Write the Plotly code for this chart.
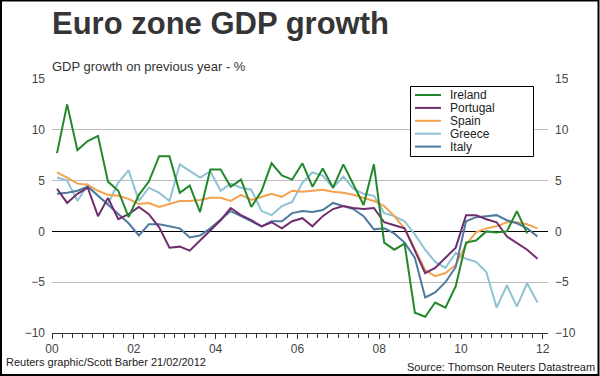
import plotly.graph_objects as go

# ---- data (year-on-year GDP growth, %, quarterly 2000Q1..2011Q4) ----
quarters = [f"{2000 + i // 4}-{2 + 3 * (i % 4):02d}-15" for i in range(48)]

series_names = ["Ireland", "Portugal", "Spain", "Greece", "Italy"]
series_colors = ["#23882a", "#6f2e6e", "#f4a24e", "#8ec2d4", "#4f7a9f"]

ireland = [7.7, 12.5, 8.0, 8.9, 9.4, 4.9, 4.0, 1.4, 3.6, 4.9, 7.4, 7.4,
           3.8, 4.5, 1.9, 6.1, 6.1, 4.4, 5.1, 2.4, 4.0, 6.7, 5.5, 5.1,
           6.7, 4.4, 6.2, 4.3, 6.6, 4.7, 2.6, 6.6, -1.1, -1.8, -1.2, -8.0,
           -8.4, -7.0, -7.5, -5.4, -1.1, -0.9, 0.0, -0.1, 0.0, 2.0, -0.2]
portugal = [4.2, 2.8, 3.7, 4.3, 1.5, 3.3, 1.2, 1.7, 2.4, 1.7, 0.4, -1.6,
            -1.5, -1.9, -0.9, 0.1, 1.1, 2.3, 1.6, 1.1, 0.5, 0.9, 0.3, 1.0,
            1.3, 0.5, 1.5, 2.2, 2.5, 2.3, 2.2, 2.3, 0.9, 0.6, 0.3, -1.9,
            -4.1, -3.6, -2.6, -1.6, 1.6, 1.6, 1.2, 0.9, -0.5, -1.1, -1.8, -2.7]
spain = [5.8, 5.3, 4.7, 4.6, 4.0, 3.6, 3.5, 3.2, 2.7, 2.8, 2.4, 2.7,
         3.0, 3.0, 3.1, 3.3, 3.3, 3.0, 3.6, 3.1, 3.4, 3.7, 3.4, 4.0,
         3.9, 4.0, 4.1, 3.9, 3.8, 3.6, 3.3, 3.0, 2.5, 1.5, 0.3, -1.8,
         -3.8, -4.4, -4.1, -3.3, -1.3, -0.1, 0.3, 0.5, 0.9, 0.9, 0.7, 0.3]
greece = [5.3, 5.0, 3.0, 4.6, 3.5, 2.7, 4.8, 6.0, 3.0, 4.3, 3.8, 3.0,
          6.6, 6.0, 5.3, 5.9, 4.0, 4.7, 4.3, 4.1, 2.0, 1.6, 2.5, 2.9,
          4.8, 5.8, 5.5, 4.3, 5.4, 4.2, 3.7, 3.5, 1.8, 1.5, 1.0, -0.3,
          -1.8, -3.0, -3.6, -2.1, -2.7, -3.0, -4.0, -7.5, -5.3, -7.4, -5.1, -7.0]
italy = [3.7, 3.8, 4.0, 4.4, 3.5, 2.6, 1.7, 0.8, -0.4, 0.7, 0.7, 0.5,
         0.3, -0.6, -0.4, 0.3, 1.2, 2.0, 1.5, 1.0, 0.5, 1.0, 1.0, 1.8,
         2.0, 1.9, 2.1, 2.8, 2.5, 2.2, 1.5, 0.2, 0.3, -0.2, -1.1, -2.6,
         -6.5, -6.0, -5.0, -3.5, 1.0, 1.4, 1.5, 1.6, 1.1, 0.8, 0.3, -0.5]

series_values = [ireland, portugal, spain, greece, italy]
y_ticks = [-10, -5, 0, 5, 10, 15]

title_text = "Euro zone GDP growth"
subtitle_text = "GDP growth on previous year - %"
credit_text = "Reuters graphic/Scott Barber 21/02/2012"
source_text = "Source: Thomson Reuters Datastream"

# ---- layout geometry ----
W, H = 600, 376
ML, MR, MT, MB = 52, 52, 79, 43
PW, PH = W - ML - MR, H - MT - MB
FONT = "Arial, Liberation Sans, sans-serif"


def px(x):
    return (x - ML) / PW


def py(y):
    return (H - MB - y) / PH


fig = go.Figure()

draw_order = [3, 2, 4, 1, 0]  # Greece, Spain, Italy, Portugal, Ireland on top
for k in draw_order:
    vals = series_values[k]
    fig.add_trace(go.Scatter(
        x=quarters[:len(vals)], y=vals, mode="lines", name=series_names[k],
        line=dict(color=series_colors[k], width=2), showlegend=False,
        hoverinfo="skip"))

# dummy trace to activate right-hand y axis
fig.add_trace(go.Scatter(x=[quarters[0]], y=[None], yaxis="y2",
                         showlegend=False, hoverinfo="skip"))

tick_font = dict(family=FONT, size=12, color="#444444")

fig.update_layout(
    width=W, height=H,
    margin=dict(l=ML, r=MR, t=MT, b=MB),
    paper_bgcolor="white", plot_bgcolor="white",
    showlegend=False,
    xaxis=dict(
        type="date", range=["2000-01-01", "2012-02-17"],
        tick0="2000-01-01", dtick="M24", tickformat="%y",
        ticks="outside", ticklen=5, tickcolor="#333333", tickwidth=1,
        minor=dict(dtick="M3", ticks="outside", ticklen=4,
                   tickcolor="#333333", showgrid=False),
        showgrid=False, zeroline=False,
        showline=True, linecolor="#333333", linewidth=1,
        tickfont=tick_font, fixedrange=True,
    ),
    yaxis=dict(
        range=[-10, 15], tickvals=y_ticks, ticks="",
        showgrid=True, gridcolor="#bdbdbd", gridwidth=1,
        zeroline=True, zerolinecolor="#000000", zerolinewidth=1.2,
        showline=False, tickfont=tick_font, ticklabelstandoff=6,
        fixedrange=True,
    ),
    yaxis2=dict(
        range=[-10, 15], tickvals=y_ticks, ticks="",
        overlaying="y", side="right", showgrid=False, zeroline=False,
        showline=False, tickfont=tick_font, ticklabelstandoff=6,
        fixedrange=True,
    ),
)

annotations = [
    dict(text=f"<b>{title_text}</b>", x=px(50), y=py(24), xanchor="left",
         yanchor="middle", font=dict(family=FONT, size=31, color="#353535")),
    dict(text=subtitle_text, x=px(50), y=py(66), xanchor="left",
         yanchor="middle", font=dict(family=FONT, size=13, color="#333333")),
    dict(text=credit_text, x=px(4), y=py(362), xanchor="left",
         yanchor="middle", font=dict(family=FONT, size=11, color="#222222")),
    dict(text=source_text, x=px(597), y=py(367), xanchor="right",
         yanchor="middle", font=dict(family=FONT, size=11, color="#222222")),
]

shapes = [
    # outer frame
    dict(type="rect", xref="paper", yref="paper", x0=px(1), x1=px(598.5),
         y0=py(375), y1=py(0.5), line=dict(color="black", width=2),
         fillcolor="rgba(0,0,0,0)", layer="above"),
    # legend box
    dict(type="rect", xref="paper", yref="paper", x0=px(410.5), x1=px(533.5),
         y0=py(156.5), y1=py(86.5), line=dict(color="black", width=1),
         fillcolor="white", layer="above"),
]

for i, (name, color) in enumerate(zip(series_names, series_colors)):
    yc = 95 + i * 12.9
    shapes.append(dict(type="line", xref="paper", yref="paper",
                       x0=px(415), x1=px(441), y0=py(yc), y1=py(yc),
                       line=dict(color=color, width=2), layer="above"))
    annotations.append(dict(text=name, x=px(448), y=py(yc), xanchor="left",
                            yanchor="middle", showarrow=False,
                            font=dict(family=FONT, size=12, color="#222222")))

for a in annotations:
    a.setdefault("showarrow", False)
    a["xref"] = "paper"
    a["yref"] = "paper"

fig.update_layout(annotations=annotations, shapes=shapes)

fig.write_html(
    "out.html",
    config={"displayModeBar": False, "staticPlot": True},
    post_script="document.body.style.margin='0';document.body.style.overflow='hidden';",
)
